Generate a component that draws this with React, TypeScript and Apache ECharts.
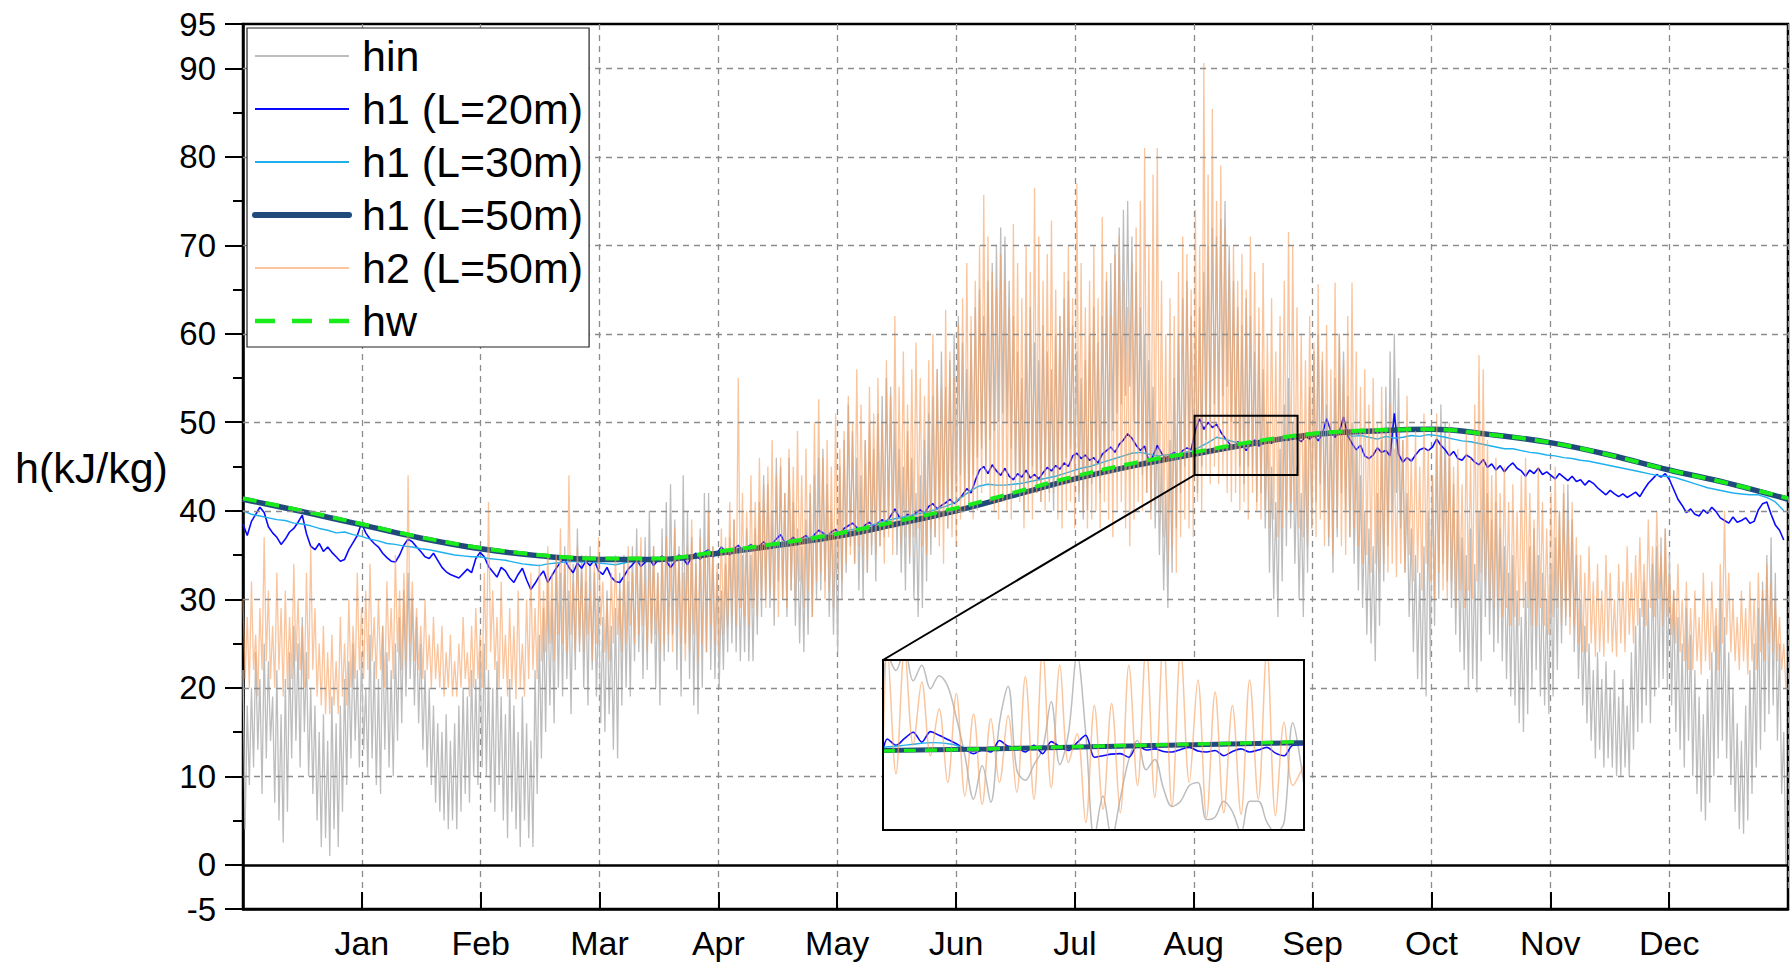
import React, { useEffect, useRef } from 'react';
import * as echarts from 'echarts';

const MONTHS = ['Jan', 'Feb', 'Mar', 'Apr', 'May', 'Jun', 'Jul', 'Aug', 'Sep', 'Oct', 'Nov', 'Dec'];
const Y_LABELS = [-5, 0, 10, 20, 30, 40, 50, 60, 70, 80, 90, 95];
const Y_MINOR = [5, 15, 25, 35, 45, 55, 65, 75, 85];
const Y_GRID = [10, 20, 30, 40, 50, 60, 70, 80, 90];
const SERIES_NAMES = ['hin', 'h1 (L=20m)', 'h1 (L=30m)', 'h1 (L=50m)', 'h2 (L=50m)', 'hw'];

// hin: daily peak / trough pairs, day 0..364 (two values per day)
const HIN = [
  22,4, 18,9, 20,11, 24,13, 21,8, 25,12, 23,14, 19,7, 22,5, 17,2.5,
  21,6, 24,12, 27,14, 25,11, 28,15, 24,10, 20,8, 18,5, 15,2, 17,3,
  14,1, 19,4, 16,2, 18,6, 21,9, 23,12, 25,14, 22,11, 24,13, 20,10,
  26,12, 23,9, 21,8, 27,13, 24,11, 22,10, 25,14, 28,16, 31,19, 33,21,
  30,18, 28,16, 25,13, 22,11, 20,9, 18,7, 16,6, 15,5, 17,4, 14,5,
  16,4, 18,6, 20,8, 19,7, 22,10, 21,9, 24,11, 25,10, 22,7, 20,6,
  23,9, 19,5, 17,3, 21,6, 18,4, 15,2, 19,5, 16,3, 14,2, 22,8,
  26,12, 29,15, 32,18, 30,16, 35,20, 33,19, 36,21, 31,17, 34,22, 38,24,
  35,20, 32,18, 36,22, 33,19, 30,16, 28,15, 31,17, 27,13, 29,12, 33,18,
  35,20, 32,19, 36,23, 38,24, 34,21, 37,22, 40,25, 36,20, 33,18, 38,23,
  41,24, 43,26, 39,22, 36,19, 44,25, 40,21, 37,18, 35,17, 38,20, 42,24,
  42,22, 36,21, 33,20, 31,22, 34,24, 37,25, 39,24, 36,23, 35,24, 38,23,
  35,23, 38,26, 41,28, 44,30, 43,29, 40,27, 46,32, 45,30, 42,28, 46,31,
  41,27, 38,25, 36,24, 39,26, 42,28, 44,30, 46,31, 47,32, 43,28, 40,26,
  38,24, 45,30, 48,33, 52,36, 49,34, 46,31, 44,30, 48,33, 50,35, 47,32,
  51,36, 53,37, 55,39, 54,38, 50,35, 47,33, 45,31, 49,34, 46,30, 42,28,
  44,29, 48,32, 51,35, 53,37, 56,39, 58,41, 54,38, 57,40, 60,43, 62,44,
  59,42, 56,40, 60,44, 63,46, 65,47, 62,45, 66,48, 68,49, 70,50, 72,51,
  71,50, 66,47, 62,44, 58,42, 55,40, 60,43, 63,45, 59,42, 57,41, 61,44,
  58,42, 56,40, 60,43, 62,45, 64,46, 66,47, 61,44, 58,41, 55,39, 57,40,
  60,43, 63,45, 59,42, 62,44, 66,47, 68,49, 70,51, 72,52, 74,53, 75,54,
  71,50, 67,47, 63,44, 60,42, 57,40, 54,38, 50,35, 46,31, 42,29, 48,33,
  55,38, 60,42, 64,45, 66,47, 62,44, 60,42, 63,45, 67,48, 70,50, 72,52,
  71,51, 73,53, 75,54, 70,50, 66,47, 63,45, 61,43, 64,45, 62,44, 58,41,
  60,42, 56,38, 50,33, 45,30, 41,28, 47,32, 52,36, 55,38, 50,34, 45,30,
  42,28, 48,33, 54,38, 58,41, 60,43, 57,40, 52,36, 50,33, 55,37, 60,42,
  58,40, 53,37, 50,34, 47,31, 44,29, 40,26, 38,25, 36,23, 42,27, 48,32,
  54,36, 58,40, 60,42, 55,38, 48,33, 42,28, 38,24, 35,21, 33,20, 36,19,
  40,23, 44,27, 48,30, 52,34, 50,32, 46,29, 43,26, 40,24, 37,22, 35,20,
  38,21, 34,19.5, 40,23, 45,28, 42,26, 39,24, 41,25, 38,23, 36,21, 33,19,
  35,18, 31,16, 28,15, 32,17, 36,20, 38,22, 35,19, 33,18, 30,17, 34,19,
  37,22, 40,25, 42,27, 43,28, 39,24, 35,21, 30,18, 27,16, 25,14, 22,12,
  24,13, 21,11, 23,12, 20,11, 22,10, 19,10, 21,11, 18,10, 24,13, 27,15,
  29,16, 32,18, 30,16, 34,19, 36,20, 37,21, 38,20, 35,18, 31,15, 28,13,
  25,11, 29,14, 26,10, 22,8, 19,6, 17,5, 21,7, 24,10, 27,12, 30,14,
  28,12, 24,9, 20,6, 16,4, 14,3.5, 18,5, 22,8, 25,11, 29,13, 32,15,
  35,17, 37,18, 33,14, 25,8, 15,0,
];

// h2 (L=50m): daily peak / trough pairs
const H2 = [
  30,21, 28,20, 32,22, 26,19, 29,22, 37,23, 31,21, 27,20, 33,22, 29,19,
  31,20, 28,21, 34,23, 30,22, 27,20, 33,21, 36,22, 29,19, 25,18, 27,17,
  24,17, 26,18, 23,17, 28,19, 25,18, 30,20, 27,21, 33,22, 29,21, 31,22,
  34,23, 28,21, 30,22, 27,20, 32,23, 29,21, 35,24, 31,22, 33,23, 44,25,
  32,23, 29,22, 27,21, 30,22, 26,20, 28,21, 25,20, 27,19, 24,20, 26,19,
  23,19, 25,20, 28,21, 24,19, 27,20, 29,21, 26,20, 33,22, 41,24, 31,22,
  28,20, 32,21, 26,19, 29,20, 27,18.7, 31,20, 25,19, 30,21, 33,22, 29,21,
  34,23, 31,24, 36,25, 33,23, 35,26, 38,25, 34,24, 44,26, 32,24, 36,25,
  33,24, 35,26, 31,23, 34,25, 37,27, 32,24, 30,23, 33,25, 35,26, 31,24,
  34,25, 36,27, 33,25, 35,26, 37,27, 32,24, 34,25, 36,26, 33,24, 35,25,
  37,26, 34,24, 38,27, 35,25, 33,23, 36,24, 39,26, 34,23, 37,25, 35,24,
  40,27, 36,25, 34,24, 38,26, 37,27, 41,28, 39,27, 55,29, 42,28, 40,27,
  44,29, 41,28, 46,30, 43,29, 45,31, 48,30, 44,28, 46,30, 42,29, 47,31,
  45,30, 49,32, 44,29, 47,31, 43,28, 50,32, 52.6,33, 46,30, 48,31, 45,29,
  51,33, 47,32, 49,34, 53,35, 50,34, 56,36, 52,35, 48,33, 54,36, 51,35,
  55,36, 50,34, 57,37, 53,35, 62,38, 54,36, 58,37, 52,35, 56,37, 59,38,
  55,36, 53,35, 57,38, 60,37, 56,36, 54,34, 62.7,38, 58,37, 55,36, 61,39,
  64,40, 68,41, 62,39, 66,40, 70,42, 75.7,43, 71,41, 67,40, 65,39, 69,41,
  66,40, 63,39, 72.4,42, 68,41, 64,38, 70,40, 67,39, 76.5,42, 71,41, 66,40,
  69,41, 72.8,42, 65,39, 62,38, 67,40, 70,41, 64,38, 77,42, 68,40, 63,38,
  66,39, 70,40, 64,38, 73.2,41, 67,39, 62,37, 69,40, 71,41, 66,38, 63,36,
  68,39, 72,41, 75,40, 81,42, 70,39, 78,41, 81,40, 66,37, 60,34, 64,36,
  62,33, 67,37, 71,39, 69,38, 65,37, 74,41, 70,40, 90.6,44, 78,43, 85.4,45,
  75,43, 79,44, 72,42, 68,41, 70,42, 66,40, 69,41, 65,39, 71,42, 67,40,
  63,39, 68,40, 60,38, 64,39, 58,37, 62,38, 66,40, 71.5,41, 70,40, 63,38,
  60,37, 57,36, 62,38, 59,37, 65.6,39, 58,36, 61,37, 56,35, 65.8,38, 60,36,
  57,35, 62,37, 65.8,38, 58,36, 54,34, 56,35, 52,33, 55,34, 50,33, 54,34,
  49,33, 52,34, 47,32.5, 50,34, 48,33, 53,35, 46,32, 49,33, 45,31, 51,34,
  47,32, 44,30, 51,33, 48,31, 46,30, 50,32, 45,29, 47,31, 43,29, 49,31,
  46,30, 52,32, 57.6,33, 56,32, 48,30, 44,29, 46,30, 42,28, 45,29, 41,27,
  43,28, 40,27, 44,29, 46,29, 42,27, 39,27, 45,29, 41,27, 38,26, 42,28,
  45,29, 40,27, 43,28, 39,26, 41,27, 37,25, 35,24, 33,24, 36,25, 32,23.5,
  34,24, 31,23.5, 35,25, 33,24, 30,23.5, 34,25, 32,24, 36,26, 33,25, 35,27,
  37,28, 34,27, 39,29, 36,28, 40,30, 35,27, 38,28, 33,26, 31,25, 34,24,
  30,23, 32,22, 29,22, 31,23, 28,21.5, 33,23, 30,22, 32,24, 29,22, 34,25,
  40,26, 33,24, 30,23, 28,22, 31,23, 29,21.5, 32,23, 30,22, 33,24, 31,23,
  34,25, 32,24, 30,23, 28,22, 25,20,
];

// h1 (L=20m): one value per day
const H1_L20 = [
  38.5, 37.2, 38.8, 39.6, 40.4, 39.8, 38.2, 37.5, 37.0, 36.2,
  36.8, 37.6, 38.0, 38.7, 39.5, 37.4, 36.0, 35.6, 36.3, 35.4,
  35.9, 35.3, 34.8, 34.3, 34.5, 35.6, 36.4, 37.2, 38.6, 37.5,
  36.8, 36.3, 35.9, 35.2, 34.7, 34.3, 34.2, 35.0, 36.1, 36.8,
  36.5, 35.9, 35.4, 34.8, 34.6, 35.2, 34.4, 33.6, 33.1, 32.8,
  32.6, 32.4, 32.9, 33.4, 33.0, 34.6, 35.3, 34.8, 33.7, 33.1,
  32.5, 33.6, 33.2, 32.4, 31.9, 32.8, 33.5, 32.2, 31.1, 31.8,
  32.6, 33.2, 31.9, 32.7, 33.5, 34.2, 34.5, 33.6, 33.0, 34.1,
  33.5, 34.3, 33.8, 34.4, 33.2, 32.8, 33.6, 32.5, 32.0, 31.9,
  32.6, 33.4, 33.9, 34.5, 33.7, 34.2, 34.6, 33.8, 34.4, 34.9,
  34.3, 33.6, 34.2, 35.0, 34.6, 33.9, 34.8, 35.2, 34.5, 35.3,
  35.6, 34.8, 35.2, 35.9, 35.4, 35.0, 35.7, 36.1, 35.5, 35.8,
  36.2, 35.7, 36.0, 36.5, 35.9, 36.3, 36.8, 37.3, 36.4, 36.6,
  37.0, 36.5, 36.9, 37.2, 36.7, 37.3, 37.8, 37.5, 37.1, 37.6,
  37.9, 37.4, 38.0, 38.3, 38.6, 38.1, 37.8, 38.4, 38.7, 38.2,
  38.6, 39.0, 38.7, 39.4, 40.2, 39.3, 39.0, 39.6, 39.3, 39.8,
  40.1, 39.7, 40.5, 40.8, 40.2, 40.6, 40.9, 41.3, 40.8, 41.2,
  41.8, 42.5, 42.0, 43.4, 44.6, 45.0, 44.2, 45.2, 44.5, 44.0,
  44.8, 43.9, 43.5, 44.2, 43.8, 44.6, 43.7, 44.1, 43.6, 44.3,
  44.9, 44.5, 45.1, 44.7, 45.4, 45.0, 46.2, 46.5, 45.9, 46.3,
  45.7, 46.0, 45.4, 46.4, 46.8, 47.2, 46.6, 47.5, 48.0, 48.7,
  48.2, 47.4, 46.8, 47.3, 45.6, 46.2, 47.4, 46.5, 45.9, 46.3,
  46.6, 46.2, 46.8, 47.1, 46.9, 49.1, 50.4, 49.2, 50.0, 49.4,
  49.8, 48.9, 48.2, 47.6, 47.1, 47.8, 47.4, 46.8, 47.5, 48.0,
  47.3, 47.7, 48.2, 47.6, 48.1, 47.9, 48.3, 48.0, 48.6, 48.2,
  47.8, 48.4, 48.1, 48.6, 47.9, 48.7, 50.4, 49.0, 48.3, 48.9,
  50.6, 48.5, 47.6, 46.9, 47.4, 46.2, 45.9, 46.3, 47.1, 46.6,
  46.8, 46.2, 51.0, 46.4, 45.5, 46.0, 45.6, 46.3, 46.9, 47.1,
  46.8, 47.2, 48.1, 47.4, 46.9, 46.2, 46.7, 45.9, 45.7, 46.3,
  46.0, 45.5, 45.2, 45.8, 44.9, 45.3, 44.6, 45.1, 44.4, 45.0,
  45.4, 44.8, 44.5, 43.9, 44.6, 44.2, 44.8, 44.1, 44.4, 44.0,
  43.6, 44.2, 43.8, 43.4, 43.9, 43.3, 43.5, 42.9, 43.4, 43.1,
  42.6, 42.2, 41.8, 42.3, 41.9, 41.6, 41.9, 41.5, 41.8, 42.1,
  41.6, 42.4, 43.1, 43.6, 44.1, 43.8, 44.2, 43.5, 42.4, 41.3,
  40.6, 39.8, 40.2, 39.6, 39.4, 40.1, 39.7, 40.4, 39.9, 39.2,
  38.9, 38.6, 39.3, 38.7, 38.9, 39.2, 38.6, 38.8, 40.1, 40.8,
  41.0, 39.6, 38.4, 37.8, 36.7,
];

// h1 (L=30m): one value every second day
const H1_L30 = [
  40.0, 39.6, 39.4, 39.2, 39.0, 38.9, 38.6, 38.5, 38.3, 38.0,
  37.8, 37.5, 37.6, 37.3, 37.1, 36.8, 36.6, 36.3, 36.2, 36.0,
  35.9, 35.7, 35.6, 35.4, 35.2, 35.0, 34.9, 34.8, 34.8, 34.6,
  34.5, 34.4, 34.2, 34.0, 33.9, 33.8, 34.0, 34.1, 34.2, 34.3,
  34.2, 34.3, 34.1, 34.0, 33.9, 34.1, 34.3, 34.2, 34.4, 34.5,
  34.5, 34.6, 34.7, 34.8, 34.8, 35.0, 35.1, 35.2, 35.4, 35.5,
  35.8, 35.9, 36.1, 36.3, 36.5, 36.6, 36.8, 37.0, 37.2, 37.3,
  37.5, 37.7, 37.9, 38.1, 38.3, 38.6, 38.9, 39.1, 39.3, 39.5,
  39.7, 39.9, 40.2, 40.5, 40.9, 41.6, 42.3, 42.8, 43.0, 42.9,
  42.9, 43.0, 43.1, 43.3, 43.5, 43.7, 43.9, 44.2, 44.5, 44.8,
  45.0, 45.3, 45.6, 45.9, 46.2, 46.5, 46.6, 46.4, 46.2, 46.3,
  46.4, 46.5, 46.8, 47.2, 47.7, 48.3, 48.1, 47.8, 47.6, 47.7,
  47.9, 48.0, 48.1, 48.2, 48.3, 48.4, 48.6, 48.7, 48.8, 48.9,
  48.8, 48.4, 48.5, 48.3, 48.1, 48.4, 48.2, 48.3, 48.5, 48.4,
  48.6, 48.5, 48.3, 48.1, 47.9, 47.8, 47.6, 47.4, 47.2, 47.0,
  47.0, 46.8, 46.6, 46.5, 46.3, 46.2, 46.0, 45.9, 45.7, 45.6,
  45.4, 45.2, 45.0, 44.8, 44.6, 44.4, 44.2, 44.0, 43.9, 43.8,
  43.5, 43.2, 42.9, 42.6, 42.4, 42.2, 42.0, 41.9, 41.8, 41.8,
  41.5, 41.0, 40.0,
];

// smooth curves, nodes every half month-unit (0 .. 13)
const NODE_UNITS = [0, 0.5, 1, 1.5, 2, 2.5, 3, 3.5, 4, 4.5, 5, 5.5, 6, 6.5, 7, 7.5, 8, 8.5, 9, 9.5, 10, 10.5, 11, 11.5, 12, 12.5, 13];
const HW = [41.4, 40.0, 38.5, 37.0, 35.8, 35.0, 34.6, 34.6, 35.4, 36.3, 37.4, 38.8, 40.3, 42.1, 43.9, 45.4, 46.6, 47.8, 48.7, 49.1, 49.2, 48.6, 47.7, 46.3, 44.6, 43.1, 41.4];
const H1_L50 = [41.3, 39.9, 38.4, 36.9, 35.7, 34.9, 34.5, 34.5, 35.2, 36.1, 37.1, 38.5, 40.0, 41.8, 43.6, 45.1, 46.4, 47.6, 48.6, 49.0, 49.2, 48.6, 47.7, 46.3, 44.6, 43.1, 41.3];

// zoom box (month-units, kJ/kg)
const BOX_U = [8.007, 8.873];
const BOX_H = [44.04, 50.74];

// inset detail: start, 48 half-day points, end
const ZOOM_SPAN_DAYS = 24.4;
const ZOOM_Y_RANGE = [31.5, 64];
const ZOOM_H2 = [
  46,
  66, 42.2, 66, 47.7, 59.8, 45.7, 54.7, 40.6, 57.6, 38.0, 53.7, 36.4, 52.8, 40.6, 53.4, 38.7,
  60.8, 37.4, 66, 39.6, 63.0, 44.4, 49.9, 32.9, 55.3, 35.5, 55.7, 34.8, 63.0, 40.0, 67, 37.7,
  68, 36.1, 66, 40.6, 60.2, 33.9, 57.9, 34.8, 55.3, 34.5, 60.2, 37.4, 66, 34.2, 52.1, 40.0,
  44,
];
const ZOOM_HIN = [
  57,
  65, 62, 66, 60, 63, 58.5, 61, 59, 53, 45.7, 37.4, 43.8, 36.8, 52, 59, 43,
  41, 44, 47, 56, 44, 50, 65, 50, 30, 38, 30, 37.5, 45, 48.6, 43, 45,
  39.5, 36, 37, 40, 40.6, 33.5, 34, 37, 35, 31, 37, 37, 33, 31, 33, 52,
  40,
];
const ZOOM_L20 = [
  46.5,
  48.9, 47.7, 49.0, 50.2, 48.3, 50.3, 49.6, 48.8, 48.0, 47.0, 46.1, 46.8, 46.4, 48.6, 47.5, 47.3,
  46.4, 47.7, 46.1, 48.4, 47.4, 46.7, 48.2, 49.6, 45.4, 45.7, 46.0, 46.1, 45.4, 47.7, 46.8, 47.0,
  46.5, 46.4, 46.9, 47.3, 46.6, 46.4, 46.7, 45.7, 46.5, 47.0, 46.4, 46.8, 47.3, 46.2, 45.7, 47.7,
  47.8,
];
// daily
const ZOOM_L30 = [47.3, 47.6, 48.0, 48.2, 47.9, 47.0, 47.0, 47.1, 47.2, 47.2, 47.3, 47.3, 47.4, 47.2, 47.3, 47.5, 47.6, 47.5, 47.5, 47.6, 47.7, 47.8, 47.8, 47.9, 48.1];
const ZOOM_NODE_DAYS = [0, 6, 12, 18, 24.4];
const ZOOM_HW = [46.6, 47.0, 47.5, 47.9, 48.4];
const ZOOM_L50 = [46.7, 47.0, 47.4, 47.8, 48.2];

const FONT = 'Liberation Sans, Arial, sans-serif';
const C_HIN = '#bdbdbd';
const C_L20 = '#0a0aff';
const C_L30 = '#1eb0ee';
const C_L50 = '#1f4a7a';
const C_H2 = 'rgba(247,160,95,0.62)';
const C_HW = '#1aeb1a';

export default function App() {
  const ref = useRef<HTMLDivElement>(null);

  useEffect(() => {
    document.body.style.margin = '0';
    const el = ref.current!;
    const chart = echarts.init(el, null, { renderer: 'svg' });

    const YEAR = 365;
    const UNITS = 13;
    const toU = (d: number) => (d * UNITS) / YEAR;

    const hinData = HIN.map((v, i) => [toU(i * 0.5), v]);
    const h2Data = H2.map((v, i) => [toU(i * 0.5), v]);
    const l20Data = H1_L20.map((v, i) => [toU(i), v]);
    const l30Data = H1_L30.map((v, i) => [toU(i * 2), v]);
    const hwData = HW.map((v, i) => [NODE_UNITS[i], v]);
    const l50Data = H1_L50.map((v, i) => [NODE_UNITS[i], v]);

    const zx = (i: number, n: number) => (i === 0 ? 0 : i === n - 1 ? ZOOM_SPAN_DAYS : 0.25 + 0.5 * (i - 1));
    const zH2 = ZOOM_H2.map((v, i) => [zx(i, ZOOM_H2.length), v]);
    const zHin = ZOOM_HIN.map((v, i) => [zx(i, ZOOM_HIN.length), v]);
    const zL20 = ZOOM_L20.map((v, i) => [zx(i, ZOOM_L20.length), v]);
    const zL30 = ZOOM_L30.map((v, i) => [Math.min(i, ZOOM_SPAN_DAYS), v]);
    const zHw = ZOOM_HW.map((v, i) => [ZOOM_NODE_DAYS[i], v]);
    const zL50 = ZOOM_L50.map((v, i) => [ZOOM_NODE_DAYS[i], v]);

    const base = { type: 'line', symbol: 'none', silent: true, animation: false };
    const INSET = { left: 883, top: 660, width: 421, height: 170 };
    const legendLine: Record<string, any> = {
      'h1 (L=50m)': { width: 6, cap: 'round' },
      hw: { width: 4.5, type: [20, 17] },
    };

    const option: any = {
      animation: false,
      backgroundColor: '#ffffff',
      textStyle: { fontFamily: FONT },
      grid: [
        { left: 243, right: 2, top: 24, bottom: 58, show: true, borderColor: '#000', borderWidth: 2.5, backgroundColor: 'transparent' },
        { ...INSET, show: true, backgroundColor: '#ffffff', borderColor: '#000', borderWidth: 2, z: 10 },
      ],
      legend: {
        data: SERIES_NAMES.map((n) => (legendLine[n] ? { name: n, lineStyle: legendLine[n] } : { name: n })),
        orient: 'vertical',
        left: 247,
        top: 28,
        padding: [6, 6, 4, 5],
        itemGap: 9,
        itemWidth: 94,
        itemHeight: 14,
        backgroundColor: '#ffffff',
        borderColor: '#222',
        borderWidth: 1.2,
        borderRadius: 0,
        selectedMode: false,
        itemStyle: { color: 'rgba(0,0,0,0)', borderColor: 'rgba(0,0,0,0)', borderWidth: 0, opacity: 0 },
        textStyle: { fontSize: 43, lineHeight: 44, color: '#000', fontFamily: FONT, padding: [0, 0, 0, 8] },
        z: 20,
      },
      xAxis: [
        {
          type: 'value', gridIndex: 0, min: 0, max: UNITS, interval: 1,
          axisLine: { show: true, onZero: false, lineStyle: { color: '#000', width: 2.5 } },
          axisTick: { show: true, inside: true, length: 17, lineStyle: { color: '#000', width: 2 } },
          axisLabel: {
            fontSize: 34, color: '#000', fontFamily: FONT, margin: 17,
            formatter: (v: number) => (v >= 1 && v <= 12 ? MONTHS[Math.round(v) - 1] : ''),
          },
          splitLine: { show: true, lineStyle: { color: '#8c8c8c', width: 1.3, type: [6, 5] } },
        },
        { type: 'value', gridIndex: 1, min: 0, max: ZOOM_SPAN_DAYS, show: false },
      ],
      yAxis: [
        {
          type: 'value', gridIndex: 0, min: -5, max: 95, interval: 5, position: 'left',
          axisLine: { show: true, onZero: false, lineStyle: { color: '#000', width: 2.5 } },
          axisTick: { show: true, inside: false, length: 18, customValues: Y_LABELS, lineStyle: { color: '#000', width: 2 } },
          axisLabel: { fontSize: 33, color: '#000', fontFamily: FONT, margin: 27, customValues: Y_LABELS },
          splitLine: { show: false },
        },
        {
          type: 'value', gridIndex: 0, min: -5, max: 95, interval: 5, position: 'left',
          axisLine: { show: false },
          axisTick: { show: true, inside: false, length: 10, customValues: Y_MINOR, lineStyle: { color: '#000', width: 2 } },
          axisLabel: { show: false },
          splitLine: { show: false },
        },
        { type: 'value', gridIndex: 1, min: ZOOM_Y_RANGE[0], max: ZOOM_Y_RANGE[1], show: false },
      ],
      series: [
        {
          ...base, name: 'hin', xAxisIndex: 0, yAxisIndex: 0, data: hinData,
          lineStyle: { color: C_HIN, width: 1.3 }, itemStyle: { color: C_HIN },
          markLine: {
            silent: true, symbol: 'none', animation: false, label: { show: false },
            data: [
              ...Y_GRID.map((v) => ({ yAxis: v, lineStyle: { color: '#8c8c8c', width: 1.3, type: [6, 5] } })),
              { yAxis: 0, lineStyle: { color: '#000', width: 2.5, type: 'solid' } },
            ],
          },
        },
        { ...base, name: 'h1 (L=20m)', xAxisIndex: 0, yAxisIndex: 0, data: l20Data, lineStyle: { color: C_L20, width: 1.6 }, itemStyle: { color: C_L20 } },
        { ...base, name: 'h1 (L=30m)', xAxisIndex: 0, yAxisIndex: 0, data: l30Data, lineStyle: { color: C_L30, width: 1.4 }, itemStyle: { color: C_L30 } },
        { ...base, name: 'h1 (L=50m)', xAxisIndex: 0, yAxisIndex: 0, data: l50Data, smooth: 0.4, lineStyle: { color: C_L50, width: 5.5 }, itemStyle: { color: C_L50 } },
        { ...base, name: 'h2 (L=50m)', xAxisIndex: 0, yAxisIndex: 0, data: h2Data, lineStyle: { color: C_H2, width: 1.3 }, itemStyle: { color: C_H2 } },
        { ...base, name: 'hw', xAxisIndex: 0, yAxisIndex: 0, data: hwData, smooth: 0.4, lineStyle: { color: C_HW, width: 4, type: [14, 9] }, itemStyle: { color: C_HW } },
        // inset
        { ...base, name: 'hin', xAxisIndex: 1, yAxisIndex: 2, z: 12, data: zHin, smooth: 0.35, lineStyle: { color: C_HIN, width: 1.5 }, itemStyle: { color: C_HIN } },
        { ...base, name: 'h1 (L=20m)', xAxisIndex: 1, yAxisIndex: 2, z: 12, data: zL20, smooth: 0.3, lineStyle: { color: C_L20, width: 1.6 }, itemStyle: { color: C_L20 } },
        { ...base, name: 'h1 (L=30m)', xAxisIndex: 1, yAxisIndex: 2, z: 12, data: zL30, smooth: 0.3, lineStyle: { color: C_L30, width: 1.4 }, itemStyle: { color: C_L30 } },
        { ...base, name: 'h1 (L=50m)', xAxisIndex: 1, yAxisIndex: 2, z: 12, data: zL50, smooth: 0.4, lineStyle: { color: C_L50, width: 5 }, itemStyle: { color: C_L50 } },
        { ...base, name: 'h2 (L=50m)', xAxisIndex: 1, yAxisIndex: 2, z: 12, data: zH2, smooth: 0.35, lineStyle: { color: C_H2, width: 1.5 }, itemStyle: { color: C_H2 } },
        { ...base, name: 'hw', xAxisIndex: 1, yAxisIndex: 2, z: 12, data: zHw, smooth: 0.4, lineStyle: { color: C_HW, width: 3.5, type: [12, 9] }, itemStyle: { color: C_HW } },
      ],
    };

    chart.setOption(option);

    const p0 = chart.convertToPixel({ gridIndex: 0 } as any, [BOX_U[0], BOX_H[0]]) as number[];
    const p1 = chart.convertToPixel({ gridIndex: 0 } as any, [BOX_U[1], BOX_H[1]]) as number[];
    chart.setOption({
      graphic: [
        {
          type: 'rect', z: 100, silent: true,
          shape: { x: p0[0], y: p1[1], width: p1[0] - p0[0], height: p0[1] - p1[1] },
          style: { fill: 'none', stroke: '#000', lineWidth: 2 },
        },
        {
          type: 'line', z: 100, silent: true,
          shape: { x1: p0[0], y1: p0[1], x2: INSET.left, y2: INSET.top },
          style: { stroke: '#000', lineWidth: 2 },
        },
        {
          type: 'rect', z: 100, silent: true,
          shape: { x: INSET.left, y: INSET.top, width: INSET.width, height: INSET.height },
          style: { fill: 'none', stroke: '#000', lineWidth: 2 },
        },
        {
          type: 'text', z: 100, silent: true, x: 15, y: 468,
          style: { text: 'h(kJ/kg)', fontSize: 43, fontFamily: FONT, fill: '#000', verticalAlign: 'middle' },
        },
      ],
    });

    return () => chart.dispose();
  }, []);

  return <div ref={ref} style={{ position: 'fixed', left: 0, top: 0, width: 1791, height: 967, background: '#fff' }} />;
}
